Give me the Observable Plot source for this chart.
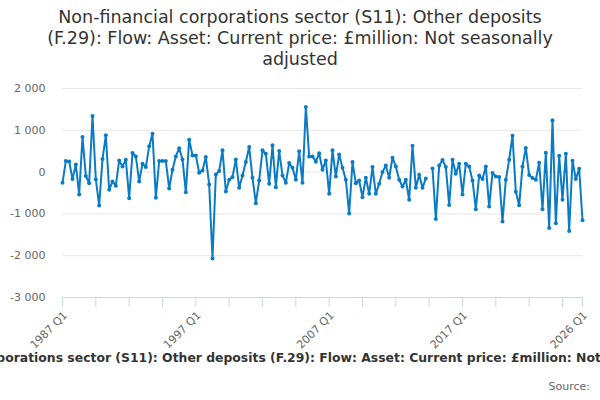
<!DOCTYPE html>
<html>
<head>
<meta charset="utf-8">
<script src="https://cdn.jsdelivr.net/npm/d3@7"></script>
<script src="https://cdn.jsdelivr.net/npm/@observablehq/plot@0.6"></script>
<style>
  html, body { margin: 0; padding: 0; background: #fff; width: 600px; height: 400px; overflow: hidden; font-family: "DejaVu Sans", sans-serif; }
  #title { width: 600px; box-sizing: border-box; padding: 7px 10px 0 10px; height: 78px; text-align: center; font-size: 17.5px; line-height: 21px; color: #333; }
  #legend { width: 600px; overflow: hidden; white-space: nowrap; font-size: 12.4px; font-weight: bold; color: #333; line-height: 20px; margin-top: 5px; display: flex; justify-content: center; }
  #legend span { flex: none; padding-left: 22px; }
  #source { width: 600px; box-sizing: border-box; padding-right: 10px; text-align: right; font-size: 11px; color: #666; line-height: 16px; margin-top: 11px; }
</style>
</head>
<body>
<div id="title">Non-financial corporations sector (S11): Other deposits<br>(F.29): Flow: Asset: Current price: £million: Not seasonally<br>adjusted</div>
<div id="chart"></div>
<div id="legend"><span>Non-financial corporations sector (S11): Other deposits (F.29): Flow: Asset: Current price: £million: Not seasonally adjusted</span></div>
<div id="source">Source:</div>
<script>
const startYear = 1987;
const values = [
  -256, 264, 256, -168, 184, -536, 840, -96, -264, 1344,
  -176, -800, 312, 880, -424, -224, -328, 280, 136, 296,
  -624, 456, 376, -224, 200, 120, 616, 920, -616, 264,
  264, 264, -392, 56, 376, 568, 304, -480, 776, 400,
  400, -16, 40, 360, -296, -2064, -56, 24, 520, -464,
  -184, -120, 304, -376, -80, 240, 600, -136, -744, -200,
  520, 440, -280, 640, -360, 504, -80, -256, 216, 104,
  -184, 496, -256, 1560, 376, 376, 250, 450, 56, 280,
  -520, 520, -104, 424, 104, -184, -992, 240, -264, -200,
  -600, -136, -520, 120, -520, -280, 0, 160, -136, 344,
  136, -184, -344, -184, -664, 632, -376, -64, -376, -152,
  null, 88, -1120, 160, 290, 120, -790, 296, -40, 200,
  -536, 200, 136, -200, -888, -80, -168, 136, -824, -24,
  -104, -120, -1184, -184, 296, 872, -472, -792, 136, 576,
  -72, -144, -184, 224, -888, 464, -1336, 1240, -1224, 392,
  -664, 440, -1408, 272, -168, 80, -1152
];
const quarters = values.map((_, i) => `${startYear + Math.floor(i / 4)} Q${(i % 4) + 1}`);
const tickLabels = ["1987 Q1", "1997 Q1", "2007 Q1", "2017 Q1", "2026 Q1"];
const yTicks = [-3000, -2000, -1000, 0, 1000, 2000];

const data = values.map((v, i) => ({ i, q: quarters[i], v }));
const labelIdx = tickLabels.map(l => quarters.indexOf(l));
const tickIdx = d3.range(0, values.length, 10).concat([values.length - 1]);
const fmt = v => d3.format(",")(v).replace(/,/g, " ").replace("−", "-");
const blue = "#0a7bc4";

const chart = Plot.plot({
  width: 600,
  height: 265,
  marginLeft: 62,
  marginRight: 18,
  marginTop: 10,
  marginBottom: 46,
  style: { fontFamily: "DejaVu Sans, sans-serif", background: "#fff", overflow: "visible" },
  x: { type: "linear", domain: [0, values.length - 1] },
  y: { domain: [-3000, 2000] },
  marks: [
    Plot.gridY(yTicks.filter(t => t > -3000), { stroke: "#e6e6e6", strokeOpacity: 1 }),
    Plot.ruleY([-3000], { stroke: "#ccd6eb", strokeWidth: 1, x1: 0, x2: values.length - 1 }),
    Plot.axisY(yTicks, { tickSize: 0, tickPadding: 17, tickFormat: fmt, fontSize: 11, fill: "#666", label: null }),
    Plot.axisX(tickIdx, { tickSize: 10, stroke: "#ccd6eb", strokeOpacity: 1, tickFormat: () => "", label: null }),
    Plot.axisX(labelIdx, { tickSize: 0, tickPadding: 16, dx: 3, tickRotate: -45, tickFormat: i => quarters[i], fontSize: 11, fill: "#666", label: null }),
    Plot.line(data, { x: "i", y: "v", stroke: blue, strokeWidth: 2, curve: "linear" }),
    Plot.dot(data.filter(d => d.v !== null), { x: "i", y: "v", r: 2, fill: blue, stroke: "none" })
  ]
});
document.getElementById("chart").appendChild(chart);
</script>
</body>
</html>
